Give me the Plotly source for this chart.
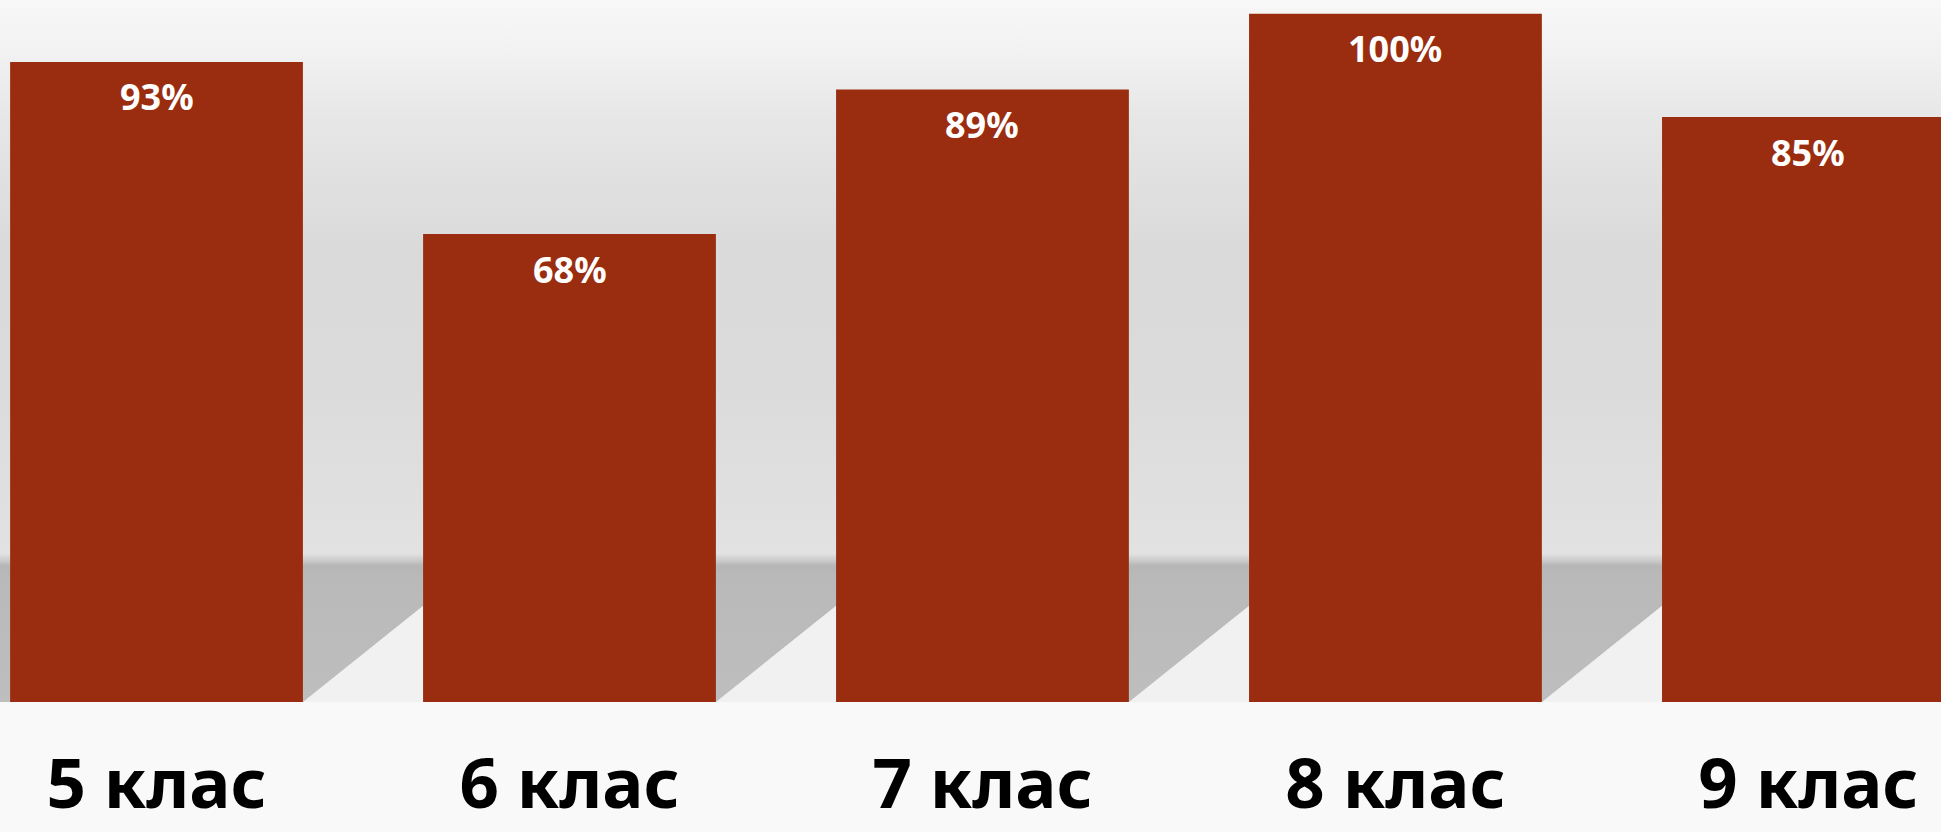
import plotly.graph_objects as go

categories = ["5 клас", "6 клас", "7 клас", "8 клас", "9 клас"]
values = [93, 68, 89, 100, 85]
labels = ["93%", "68%", "89%", "100%", "85%"]

BAR_W = 0.709
X_RANGE = [-0.379, 4.321]
Y_RANGE = [0, 102.0]
FLOOR_Y = 21.5     # wall/floor edge, in % units
SHADOW_RISE = 14.0

fig = go.Figure()

# ---- background (primary axes x/y) ----
x0, x1 = X_RANGE
fig.add_trace(go.Scatter(
    x=[x0, x1, x1, x0, x0], y=[FLOOR_Y, FLOOR_Y, Y_RANGE[1], Y_RANGE[1], FLOOR_Y],
    mode="none", fill="toself", hoverinfo="skip", showlegend=False,
    fillgradient=dict(type="vertical", colorscale=[
        [0.0, "#e2e2e2"], [0.3, "#dbdbdb"], [0.55, "#dadada"],
        [0.78, "#e6e6e6"], [0.9, "#f1f1f1"], [1.0, "#f8f8f8"]]),
    xaxis="x", yaxis="y"))
# floor shadow band
fig.add_trace(go.Scatter(
    x=[x0, x1, x1, x0, x0], y=[0, 0, FLOOR_Y, FLOOR_Y, 0],
    mode="none", fill="toself", hoverinfo="skip", showlegend=False,
    fillgradient=dict(type="vertical", colorscale=[
        [0.0, "#bebebe"], [0.85, "#b9b9b9"], [0.92, "#b6b6b6"], [0.96, "#cdcdcd"], [1.0, "#e0e0e0"]]),
    xaxis="x", yaxis="y"))
# lit floor triangles in the gaps between bars
for i in range(len(categories)):
    xl = i + BAR_W / 2
    xr = i + 1 - BAR_W / 2
    fig.add_trace(go.Scatter(
        x=[xl, xr, xr, xl], y=[0, 0, SHADOW_RISE, 0],
        mode="none", fill="toself", fillcolor="#f1f1f1",
        hoverinfo="skip", showlegend=False, xaxis="x", yaxis="y"))

# ---- bars (overlay axes x2/y2) ----
fig.add_trace(go.Bar(
    x=categories, y=values, width=BAR_W,
    marker=dict(color="#9a2d10", line=dict(width=0)),
    hoverinfo="skip", showlegend=False, xaxis="x2", yaxis="y2"))

for c, v, t in zip(categories, values, labels):
    fig.add_annotation(x=c, y=v, xref="x2", yref="y2", text=t,
                       showarrow=False, yanchor="middle", yshift=-35,
                       font=dict(family="Noto Sans", size=36, color="white", weight="bold"))

fig.update_layout(
    width=1941, height=832,
    margin=dict(l=0, r=0, t=0, b=130, autoexpand=False),
    paper_bgcolor="#f8f8f8", plot_bgcolor="rgba(0,0,0,0)",
    xaxis=dict(range=X_RANGE, visible=False, fixedrange=True, automargin=False),
    yaxis=dict(range=Y_RANGE, visible=False, fixedrange=True, automargin=False),
    xaxis2=dict(overlaying="x", anchor="y2", side="bottom", range=X_RANGE,
                type="category", showgrid=False, zeroline=False, showline=False,
                ticks="", ticklabelstandoff=36, automargin=False,
                tickfont=dict(family="Noto Sans", size=69, color="black", weight="bold")),
    yaxis2=dict(overlaying="y", anchor="x2", range=Y_RANGE, visible=False, automargin=False),
    showlegend=False,
)
fig.add_shape(type="rect", xref="paper", yref="paper", x0=0, x1=1, y0=-0.2, y1=0,
              fillcolor="#f9f9f9", line=dict(width=0), layer="below")

fig.write_html("out.html", config={"displayModeBar": False},
               post_script="document.body.style.margin='0';document.body.style.overflow='hidden';")
